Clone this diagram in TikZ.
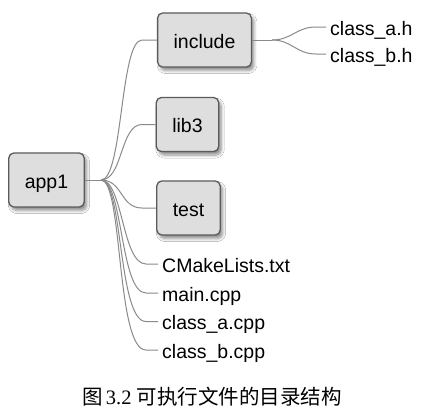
\documentclass[tikz,border=0pt]{standalone}
\usepackage{fontspec}
\setmainfont{Liberation Sans}
\newfontfamily\cjkfont{Noto Sans CJK SC}
\newfontfamily\capserif{Liberation Serif}
\usetikzlibrary{shadows.blur}
\definecolor{boxfill}{HTML}{DEDEDE}
\definecolor{boxline}{HTML}{5A5A5A}
\definecolor{wire}{HTML}{8A8A8A}
\begin{document}
\begin{tikzpicture}[x=1pt,y=1pt,
  every node/.style={font=\fontsize{19.5}{22}\selectfont, text=black},
  dirbox/.style={draw=boxline, line width=1.3pt, fill=boxfill, rounded corners=5pt,
    minimum height=54pt, inner xsep=16pt, inner ysep=0pt, text height=20pt, text depth=4pt,
    blur shadow={shadow xshift=2.5pt, shadow yshift=-3.5pt, shadow blur steps=6, shadow blur radius=3pt, shadow opacity=45}},
  leaf/.style={anchor=west, inner xsep=4pt, inner ysep=0pt, text height=20pt, text depth=4pt},
  wireline/.style={draw=wire, line width=1pt}]
\useasboundingbox (0,0) rectangle (428,-415);
\fill[white] (0,0) rectangle (428,-415);

% main nodes
\node[dirbox] (app1) at (46.5,-180) {app1};
\node[dirbox] (inc) at (204.5,-40) {include};
\node[dirbox] (lib) at (187.5,-124.5) {lib3};
\node[dirbox] (tst) at (188.5,-208) {test};

% leaves
\node[leaf] (ha) at (326,-27) {class\_a.h};
\node[leaf] (hb) at (326,-54) {class\_b.h};
\node[leaf] (cm) at (158,-264) {CMakeLists.txt};
\node[leaf] (mc) at (158,-293) {main.cpp};
\node[leaf] (ca) at (158,-321.5) {class\_a.cpp};
\node[leaf] (cb) at (158,-350) {class\_b.cpp};

% fork points
\coordinate (f1) at (101,-180);
\coordinate (f2) at (272,-40);
\coordinate (e1) at (142,-40);
\coordinate (e2) at (142,-124.5);
\coordinate (e3) at (142,-208);
\coordinate (e4) at (146,-264);
\coordinate (e5) at (146,-293);
\coordinate (e6) at (146,-321.5);
\coordinate (e7) at (146,-350);
\coordinate (g1) at (316,-27);
\coordinate (g2) at (316,-54);

\draw[wireline] (app1.east) -- (f1);
\draw[wireline] (f1) .. controls +(22,0) and +(-22,0) .. (e1) -- (inc.west);
\draw[wireline] (f1) .. controls +(22,0) and +(-22,0) .. (e2) -- (lib.west);
\draw[wireline] (f1) .. controls +(22,0) and +(-22,0) .. (e3) -- (tst.west);
\draw[wireline] (f1) .. controls +(22,0) and +(-24,0) .. (e4) -- (cm.west);
\draw[wireline] (f1) .. controls +(22,0) and +(-26,0) .. (e5) -- (mc.west);
\draw[wireline] (f1) .. controls +(22,0) and +(-28,0) .. (e6) -- (ca.west);
\draw[wireline] (f1) .. controls +(22,0) and +(-30,0) .. (e7) -- (cb.west);

\draw[wireline] (inc.east) -- (f2);
\draw[wireline] (f2) .. controls +(20,0) and +(-20,0) .. (g1) -- (ha.west);
\draw[wireline] (f2) .. controls +(20,0) and +(-20,0) .. (g2) -- (hb.west);

% caption
\node[font=\fontsize{20.5}{24}\selectfont, inner sep=0pt] (cap) at (212,-397)
  {{\cjkfont 图}\kern3pt{\capserif 3.2}\kern5pt{\cjkfont 可执行文件的目录结构}};
\end{tikzpicture}
\end{document}
